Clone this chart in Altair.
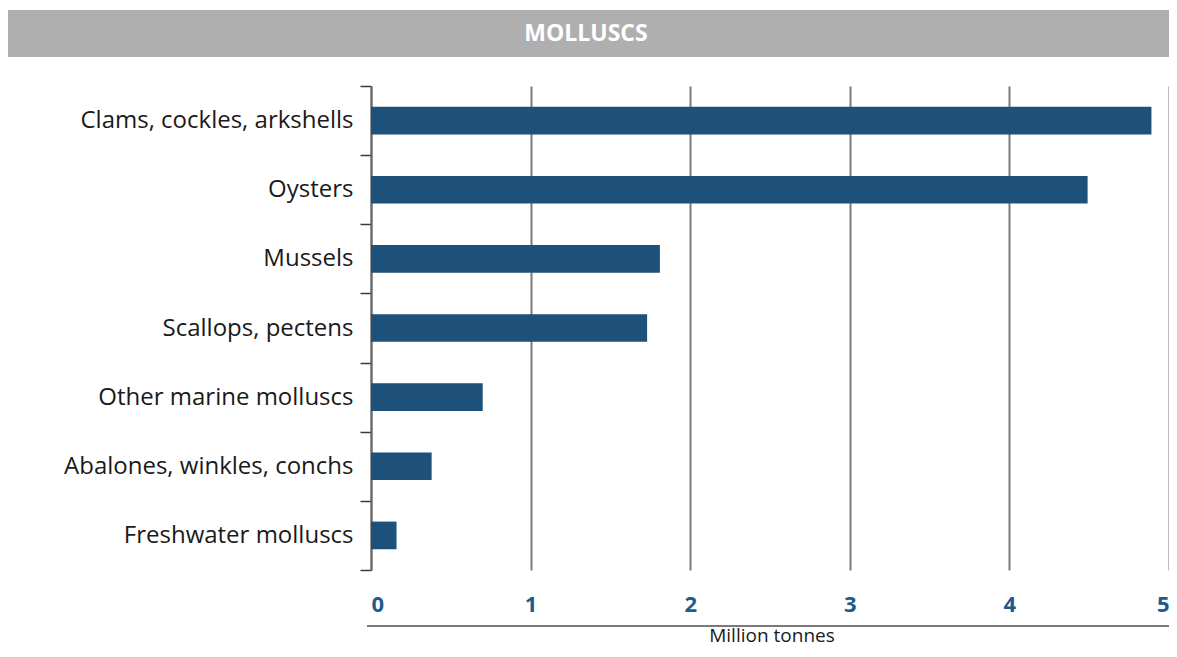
import altair as alt
import pandas as pd

categories = [
    "Clams, cockles, arkshells",
    "Oysters",
    "Mussels",
    "Scallops, pectens",
    "Other marine molluscs",
    "Abalones, winkles, conchs",
    "Freshwater molluscs",
]
values = [4.89, 4.49, 1.81, 1.73, 0.70, 0.38, 0.16]
x_ticks = [0, 1, 2, 3, 4, 5]
title_text = "MOLLUSCS"
x_title = "Million tonnes"

df = pd.DataFrame({"category": categories, "value": values})
df_title = pd.DataFrame({"t": [title_text]})
df_xtitle = pd.DataFrame({"t": [x_title]})

FONT = "Open Sans"
W, H = 798, 484

bars = alt.Chart(df).mark_bar(
    color="#1d5179", height=alt.RelativeBandSize(0.4)
).encode(
    x=alt.X(
        "value:Q",
        scale=alt.Scale(domain=[0, 5], nice=False, zero=True),
        axis=alt.Axis(
            values=x_ticks,
            title=None,
            domain=False,
            ticks=False,
            grid=True,
            gridColor="#7a7a7a",
            gridWidth=2,
            labelFont=FONT,
            labelFontSize=22,
            labelFontWeight="bold",
            labelColor="#1f5a8c",
            labelPadding=24,
        ),
    ),
    y=alt.Y(
        "category:N",
        sort=categories,
        scale=alt.Scale(paddingInner=0, paddingOuter=0),
        axis=alt.Axis(
            title=None,
            domainColor="#6a6a6a",
            domainWidth=2,
            tickBand="extent",
            tickColor="#3a3a3a",
            tickWidth=1.5,
            tickSize=11,
            labelFont=FONT,
            labelFontSize=24,
            labelColor="#1a1a1a",
            labelPadding=7,
            labelLimit=400,
        ),
    ),
)

band = alt.Chart(df_title).mark_rect(color="#afafaf").encode(
    x=alt.value(-364), x2=alt.value(804), y=alt.value(-76), y2=alt.value(-29)
)
band_text = alt.Chart(df_title).mark_text(
    font=FONT, fontSize=23, fontWeight="bold", color="white"
).encode(text="t:N", x=alt.value(215), y=alt.value(-52))

bottom_rule = alt.Chart(df_xtitle).mark_rule(color="#7a7a7a", strokeWidth=2).encode(
    x=alt.value(-4), x2=alt.value(806), y=alt.value(540)
)

xtitle = alt.Chart(df_xtitle).mark_text(
    font=FONT, fontSize=19, color="#1a1a1a", baseline="middle"
).encode(text="t:N", x=alt.value(401), y=alt.value(550))

chart = alt.layer(band, band_text, bars, bottom_rule, xtitle).properties(
    width=W, height=H,
    autosize=alt.AutoSizeParams(type="none"),
    padding={"left": 363, "top": 78, "right": 0, "bottom": 79},
).configure(background="white", view=alt.ViewConfig(stroke=None))

chart.save("out.html", embed_options={"renderer": "svg", "actions": False})
